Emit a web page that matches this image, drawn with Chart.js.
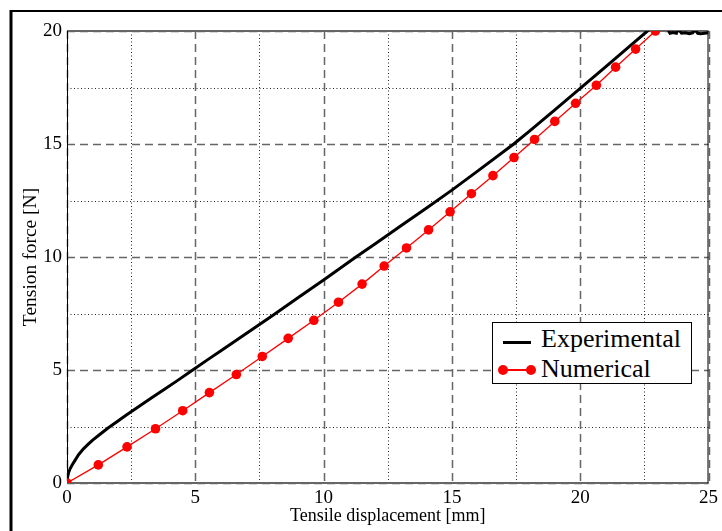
<!DOCTYPE html>
<html>
<head>
<meta charset="utf-8">
<script src="https://cdn.jsdelivr.net/npm/chart.js@4.4.1/dist/chart.umd.min.js"></script>
<style>
  body { margin: 0; background: #fff; }
  #wrap { position: relative; width: 722px; height: 531px; }
  #legend {
    position: absolute; left: 492px; top: 322px; width: 198px; height: 60px;
    border: 1px solid #000; background: #fff;
    font-family: 'Liberation Serif', serif; font-size: 26px; color: #000;
  }
  #legend .txt { position: absolute; left: 48px; line-height: 26px; white-space: nowrap; }
  #legend .line { position: absolute; left: 10px; width: 28px; }
  #legend .dot { position: absolute; width: 10px; height: 10px; border-radius: 50%; background: #ff0000; }
</style>
</head>
<body>
<div id="wrap">
  <canvas id="chart"></canvas>
  <div id="legend">
    <div class="line" style="top:18px;height:3px;background:#000"></div>
    <span class="txt" style="top:3px">Experimental</span>
    <div class="line" style="top:46px;height:1.5px;background:#ff0000"></div>
    <div class="dot" style="left:5px;top:42px"></div>
    <div class="dot" style="left:33px;top:42px"></div>
    <span class="txt" style="top:33px">Numerical</span>
  </div>
</div>
<script>
const expX = [0, 0.02, 0.06, 0.12, 0.2, 0.3, 0.45, 0.65, 0.85, 1.0, 1.3, 1.6, 2.0, 2.3, 2.8, 3.3, 3.8, 4.3, 4.9, 5.5, 6.0, 7.0, 8.0, 9.0, 10.0, 11.26, 12.0, 13.0, 14.0, 15.0, 16.0, 17.41, 18.0, 19.0, 20.0, 21.0, 22.0, 22.62, 22.9, 23.2, 23.4, 23.5, 23.62, 23.75, 23.82, 23.95, 24.1, 24.25, 24.38, 24.48, 24.58, 24.7, 24.85, 25.0];
const expY = [0, 0.25, 0.45, 0.63, 0.8, 0.98, 1.25, 1.52, 1.74, 1.9, 2.17, 2.43, 2.75, 3.0, 3.38, 3.77, 4.15, 4.53, 5.0, 5.47, 5.85, 6.63, 7.4, 8.2, 8.98, 10.0, 10.58, 11.37, 12.16, 12.96, 13.8, 15.0, 15.55, 16.5, 17.46, 18.42, 19.4, 20.0, 20.25, 20.3, 20.1, 19.9, 19.93, 19.9, 20.1, 19.9, 19.92, 19.88, 19.92, 20.05, 19.9, 19.88, 19.9, 19.92];

const numX = [0, 1.22, 2.34, 3.45, 4.51, 5.55, 6.6, 7.61, 8.62, 9.62, 10.58, 11.5, 12.36, 13.23, 14.09, 14.93, 15.76, 16.6, 17.42, 18.22, 19.01, 19.82, 20.63, 21.38, 22.16, 22.93];
const numY = [0, 0.8, 1.6, 2.4, 3.2, 4.0, 4.8, 5.6, 6.4, 7.2, 8.0, 8.8, 9.6, 10.4, 11.2, 12.0, 12.8, 13.6, 14.4, 15.2, 16.0, 16.8, 17.6, 18.4, 19.2, 20.0];

const xTicks = [0, 5, 10, 15, 20, 25];
const yTicks = [0, 5, 10, 15, 20];
const gridStep = 2.5;

const serif = "'Liberation Serif', 'Times New Roman', serif";

const toPoints = (xs, ys) => xs.map((x, i) => ({ x: x, y: ys[i] }));

// outer frame of the figure (top and left edges only are visible)
const framePlugin = {
    id: 'frame',
    beforeDraw(chart) {
        const ctx = chart.ctx;
        ctx.save();
        ctx.strokeStyle = '#000';
        ctx.lineWidth = 2;
        ctx.beginPath();
        ctx.moveTo(10, 11);
        ctx.lineTo(722, 11);
        ctx.stroke();
        ctx.lineWidth = 3;
        ctx.beginPath();
        ctx.moveTo(11, 10);
        ctx.lineTo(11, 531);
        ctx.stroke();
        ctx.restore();
    }
};

// dashed major / dotted minor grid, drawn from the scales
const gridPlugin = {
    id: 'mixedGrid',
    beforeDatasetsDraw(chart) {
        const { ctx, chartArea: a, scales: { x, y } } = chart;
        ctx.save();
        for (let v = 0; v <= 25 + 1e-9; v += gridStep) {
            const px = Math.round(x.getPixelForValue(v)) + 0.5;
            const major = Math.abs(v % 5) < 1e-9;
            ctx.setLineDash(major ? [8, 5] : [1, 2.5]);
            ctx.strokeStyle = major ? '#666' : '#222';
            ctx.lineWidth = major ? 1.5 : 1;
            ctx.beginPath();
            ctx.moveTo(px, a.top);
            ctx.lineTo(px, a.bottom);
            ctx.stroke();
        }
        for (let v = 0; v <= 20 + 1e-9; v += gridStep) {
            const py = Math.round(y.getPixelForValue(v)) + 0.5;
            const major = Math.abs(v % 5) < 1e-9;
            ctx.setLineDash(major ? [8, 5] : [1, 2.5]);
            ctx.strokeStyle = major ? '#666' : '#222';
            ctx.lineWidth = major ? 1.5 : 1;
            ctx.beginPath();
            ctx.moveTo(a.left, py);
            ctx.lineTo(a.right, py);
            ctx.stroke();
        }
        ctx.setLineDash([]);
        // plot box
        ctx.strokeStyle = '#666';
        ctx.lineWidth = 2;
        ctx.beginPath();
        ctx.moveTo(a.left, a.top);
        ctx.lineTo(a.right, a.top);
        ctx.moveTo(a.left, a.bottom);
        ctx.lineTo(a.right, a.bottom);
        ctx.stroke();
        ctx.strokeStyle = '#000';
        ctx.lineWidth = 1;
        ctx.beginPath();
        ctx.moveTo(a.left + 0.5, a.top);
        ctx.lineTo(a.left + 0.5, a.bottom);
        ctx.moveTo(a.right - 0.5, a.top);
        ctx.lineTo(a.right - 0.5, a.bottom);
        ctx.stroke();
        ctx.restore();
    }
};

const data = {
    datasets: [
        {
            label: 'Numerical',
            data: toPoints(numX, numY),
            borderColor: '#ff0000',
            backgroundColor: '#ff0000',
            borderWidth: 1.3,
            pointRadius: 4.8,
            pointBorderWidth: 0,
            tension: 0
        },
        {
            label: 'Experimental',
            data: toPoints(expX, expY),
            borderColor: '#000',
            borderWidth: 3,
            pointRadius: 0,
            tension: 0
        }
    ]
};

const hiddenGrid = { display: true, drawOnChartArea: false, drawTicks: false, lineWidth: 0 };

const config = {
    type: 'line',
    data: data,
    options: {
        responsive: true,
        maintainAspectRatio: false,
        animation: false,
        layout: { padding: { left: 0, right: 12, top: 31, bottom: 0 } },
        plugins: { legend: { display: false }, tooltip: { enabled: false } },
        scales: {
            x: {
                type: 'linear',
                min: 0,
                max: 25,
                afterFit: (s) => { s.height = 48; },
                afterBuildTicks: (s) => { s.ticks = xTicks.map((v) => ({ value: v })); },
                ticks: { color: '#000', padding: 4, font: { family: serif, size: 19 } },
                grid: hiddenGrid,
                border: { display: false },
                title: {
                    display: true,
                    text: 'Tensile displacement [mm]',
                    color: '#000',
                    font: { family: serif, size: 18 },
                    padding: { top: 0, bottom: 4 }
                }
            },
            y: {
                min: 0,
                max: 20,
                afterFit: (s) => { s.width = 67; },
                afterBuildTicks: (s) => { s.ticks = yTicks.map((v) => ({ value: v })); },
                ticks: { color: '#000', padding: 5, font: { family: serif, size: 19 } },
                grid: hiddenGrid,
                border: { display: false },
                title: {
                    display: true,
                    text: 'Tension force [N]',
                    color: '#000',
                    font: { family: serif, size: 19.5 },
                    padding: { top: 19, bottom: 0 }
                }
            }
        }
    },
    plugins: [framePlugin, gridPlugin]
};

new Chart(document.getElementById('chart'), config);
</script>
</body>
</html>
